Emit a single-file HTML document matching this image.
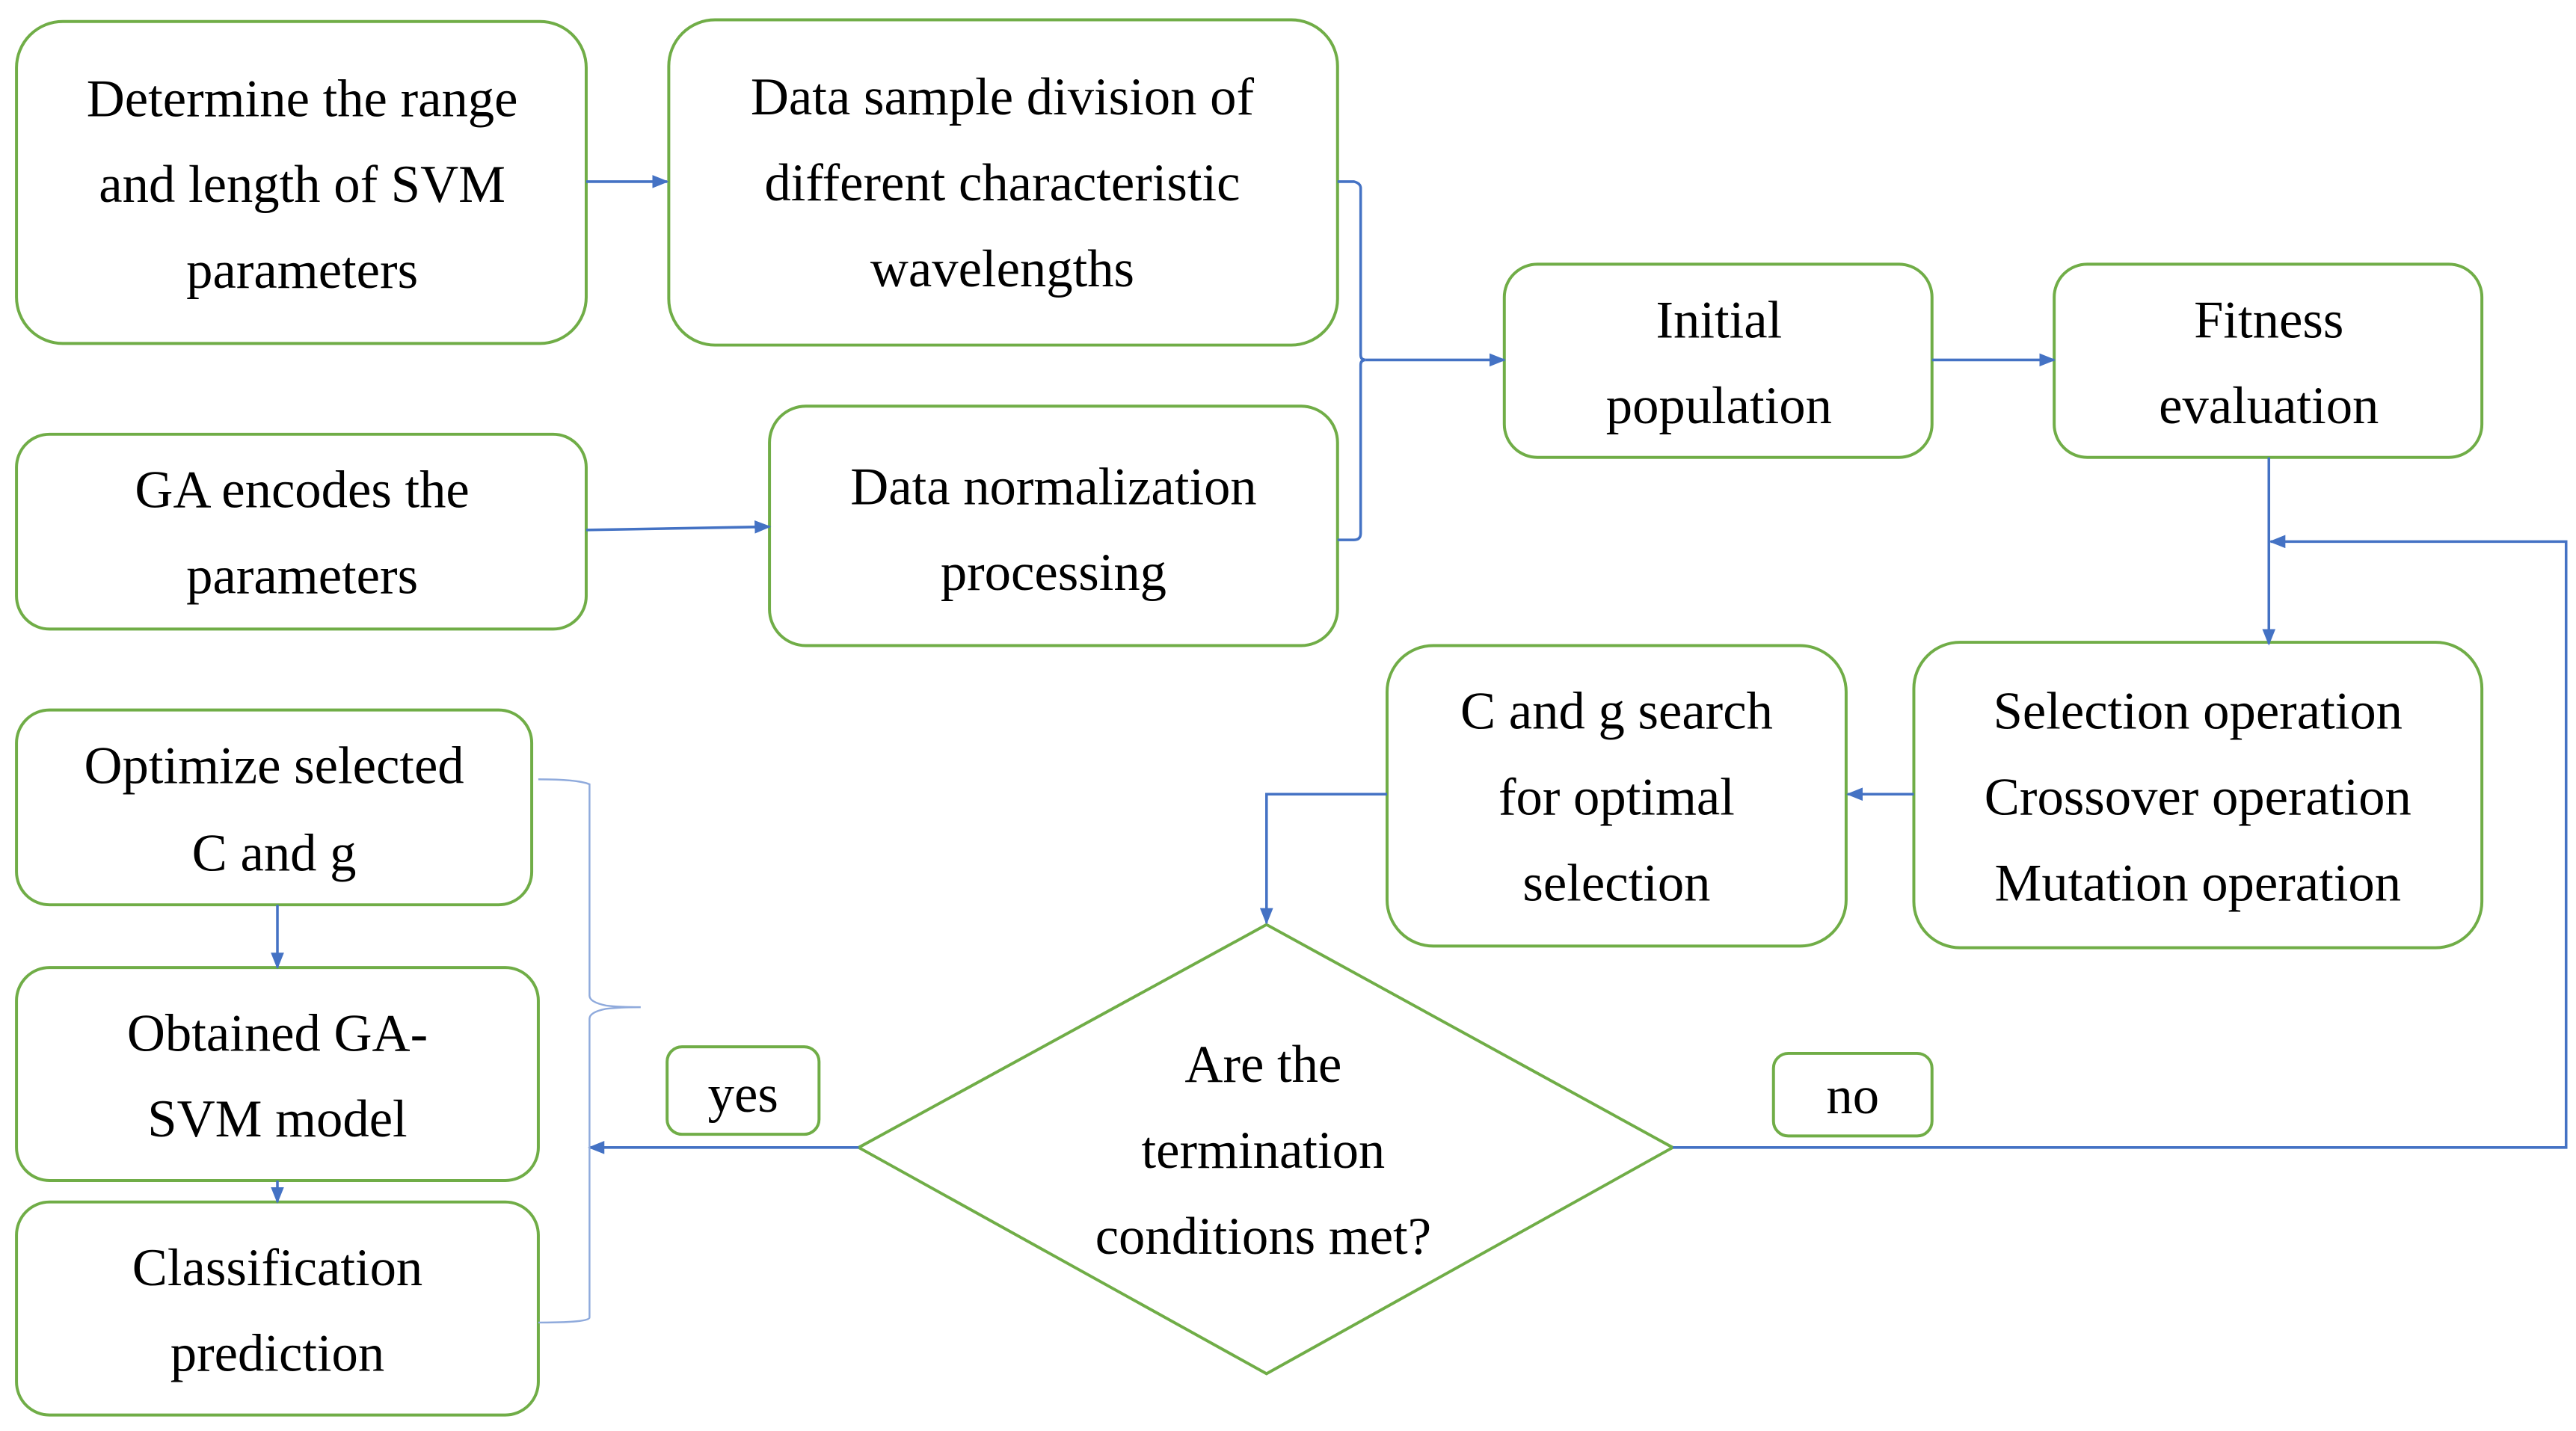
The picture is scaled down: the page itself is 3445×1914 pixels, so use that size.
<!DOCTYPE html>
<html><head><meta charset="utf-8"><style>
html,body{margin:0;padding:0;background:#fff;}
svg{display:block;}
svg text{font-family:"Liberation Serif","Times New Roman",Times,serif !important;font-size:32px;fill:#000;text-anchor:middle;dominant-baseline:middle;}
.b{fill:#fff;stroke:#70AD47;stroke-width:1.8;}
.c{fill:none;stroke:#4472C4;stroke-width:1.6;}
.t{fill:none;stroke:#8FAADC;stroke-width:1.1;}
</style></head><body>
<svg width="3445" height="1914" viewBox="0 0 1560 866.7" preserveAspectRatio="none" font-family="Liberation Serif, Times New Roman, serif">
<defs><marker id="a" markerWidth="10" markerHeight="8" refX="9" refY="4" orient="auto" markerUnits="userSpaceOnUse"><path d="M0,0 L10,4 L0,8 z" fill="#4472C4"/></marker></defs>
<rect class="b" x="10" y="13" width="345" height="195" rx="28"/>
<text font-family="Liberation Serif" x="183" y="63">Determine the range</text><text font-family="Liberation Serif" x="183" y="115">and length of SVM</text><text font-family="Liberation Serif" x="183" y="167">parameters</text>
<rect class="b" x="405" y="12" width="405" height="197" rx="28"/>
<text font-family="Liberation Serif" x="607" y="62">Data sample division of</text><text font-family="Liberation Serif" x="607" y="114">different characteristic</text><text font-family="Liberation Serif" x="607" y="166">wavelengths</text>
<rect class="b" x="10" y="263" width="345" height="118" rx="20"/>
<text font-family="Liberation Serif" x="183" y="300">GA encodes the</text><text font-family="Liberation Serif" x="183" y="352">parameters</text>
<rect class="b" x="466" y="246" width="344" height="145" rx="22"/>
<text font-family="Liberation Serif" x="638" y="298">Data normalization</text><text font-family="Liberation Serif" x="638" y="350">processing</text>
<rect class="b" x="911" y="160" width="259" height="117" rx="20"/>
<text font-family="Liberation Serif" x="1041" y="197">Initial</text><text font-family="Liberation Serif" x="1041" y="249">population</text>
<rect class="b" x="1244" y="160" width="259" height="117" rx="20"/>
<text font-family="Liberation Serif" x="1374" y="197">Fitness</text><text font-family="Liberation Serif" x="1374" y="249">evaluation</text>
<rect class="b" x="1159" y="389" width="344" height="185" rx="28"/>
<text font-family="Liberation Serif" x="1331" y="434">Selection operation</text><text font-family="Liberation Serif" x="1331" y="486">Crossover operation</text><text font-family="Liberation Serif" x="1331" y="538">Mutation operation</text>
<rect class="b" x="840" y="391" width="278" height="182" rx="28"/>
<text font-family="Liberation Serif" x="979" y="434">C and g search</text><text font-family="Liberation Serif" x="979" y="486">for optimal</text><text font-family="Liberation Serif" x="979" y="538">selection</text>
<rect class="b" x="10" y="430" width="312" height="118" rx="20"/>
<text font-family="Liberation Serif" x="166" y="467">Optimize selected</text><text font-family="Liberation Serif" x="166" y="520">C and g</text>
<rect class="b" x="10" y="586" width="316" height="129" rx="20"/>
<text font-family="Liberation Serif" x="168" y="629">Obtained GA-</text><text font-family="Liberation Serif" x="168" y="681">SVM model</text>
<rect class="b" x="10" y="728" width="316" height="129" rx="20"/>
<text font-family="Liberation Serif" x="168" y="771">Classification</text><text font-family="Liberation Serif" x="168" y="823">prediction</text>
<polygon class="b" points="767,560 1013,695 767,832 520,695"/>
<text font-family="Liberation Serif" x="765" y="648">Are the</text><text font-family="Liberation Serif" x="765" y="700">termination</text><text font-family="Liberation Serif" x="765" y="752">conditions met?</text>
<rect class="b" x="404" y="634" width="92" height="53" rx="9"/>
<text font-family="Liberation Serif" x="450" y="666">yes</text>
<rect class="b" x="1074" y="638" width="96" height="50" rx="9"/>
<text font-family="Liberation Serif" x="1122" y="667">no</text>
<line class="c" x1="355" y1="110" x2="404" y2="110" marker-end="url(#a)"/>
<line class="c" x1="355" y1="321" x2="466" y2="319" marker-end="url(#a)"/>
<path class="c" d="M810,110 L820,110 Q824,111 824,114 L824,215 Q824,218 827,218 Q824,218 824,221 L824,323 Q824,327 820,327 L810,327"/>
<line class="c" x1="827" y1="218" x2="911" y2="218" marker-end="url(#a)"/>
<line class="c" x1="1170" y1="218" x2="1244" y2="218" marker-end="url(#a)"/>
<line class="c" x1="1374" y1="277" x2="1374" y2="390" marker-end="url(#a)"/>
<path class="c" d="M1013,695 L1554,695 L1554,328 L1375,328" marker-end="url(#a)"/>
<line class="c" x1="1159" y1="481" x2="1119" y2="481" marker-end="url(#a)"/>
<path class="c" d="M840,481 L767,481 L767,559" marker-end="url(#a)"/>
<line class="c" x1="520" y1="695" x2="357" y2="695" marker-end="url(#a)"/>
<line class="c" x1="168" y1="548" x2="168" y2="586" marker-end="url(#a)"/>
<line class="c" x1="168" y1="715" x2="168" y2="728" marker-end="url(#a)"/>
<path class="t" d="M326,472 Q350,472 357,475 L357,603 Q357,607 367,609 Q375,610 388,610 Q375,610 367,611 Q357,613 357,617 L357,798 Q357,801 326,801"/>
</svg>
</body></html>
